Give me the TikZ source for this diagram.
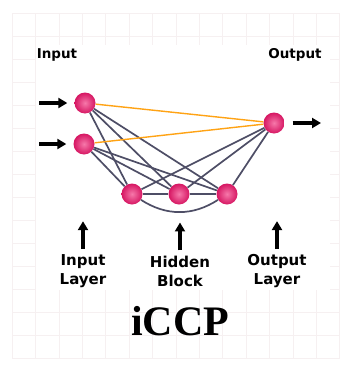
\documentclass[tikz,border=0pt]{standalone}
\usepackage{fontspec}
\setmainfont{DejaVu Sans}
\newfontfamily\titlefont{Liberation Serif}
\usetikzlibrary{arrows.meta,positioning,shadings}
\definecolor{nodepink}{RGB}{214,22,98}
\definecolor{nodelight}{RGB}{246,120,170}
\definecolor{linkgray}{RGB}{78,78,102}
\definecolor{skiporange}{RGB}{255,163,20}
\definecolor{gridpink}{RGB}{246,240,241}
\tikzset{
  neuron/.style={circle,minimum size=21pt,inner sep=0pt,shading=radial,
    inner color=nodelight,outer color=nodepink},
  link/.style={linkgray,line width=1.7pt},
  skip/.style={skiporange,line width=1.4pt},
  feed/.style={-{Triangle[length=9pt,width=10pt]},line width=3.5pt},
  toplabel/.style={font=\bfseries\fontsize{13.5}{16}\selectfont},
  caption/.style={font=\bfseries\fontsize{15}{19}\selectfont,align=center,inner sep=1pt}
}

\begin{document}
\begin{tikzpicture}[x=1pt,y=-1pt]
  \useasboundingbox (0,0) rectangle (351,367);
  % faint grid behind the picture
  \foreach \gx in {0,...,14}
    \draw[gridpink,line width=0.6pt] ({12+23.4*\gx},13) -- ({12+23.4*\gx},358);
  \foreach \gy in {0,...,15}
    \draw[gridpink,line width=0.6pt] (12,{13+23*\gy}) -- (340,{13+23*\gy});
  \fill[white] (36,45) rectangle (330,290);

  % neurons
  \node[neuron] (in1) at (85,103) {};
  \node[neuron] (in2) at (84,144) {};
  \node[neuron] (h1) at (132,194) {};
  \node[neuron] (h2) at (179,194) {};
  \node[neuron] (h3) at (227,194) {};
  \node[neuron] (out) at (274,123) {};

  % connections
  \foreach \i in {in1,in2}
    \foreach \h in {h1,h2,h3}
      \draw[link] (\i) -- (\h);
  \foreach \h in {h1,h2,h3}
    \draw[link] (\h) -- (out);
  \draw[link] (h1) -- (h2) -- (h3);
  \draw[link] (h1) to[bend right=33] (h3);
  \foreach \i in {in1,in2}
    \draw[skip] (\i) -- (out);

  % signal arrows
  \coordinate (x1) at (39,103);
  \coordinate (x2) at (39,144);
  \coordinate (y) at (321,123);
  \draw[feed,shorten >=7pt] (x1) -- (in1);
  \draw[feed,shorten >=7pt] (x2) -- (in2);
  \draw[feed,shorten <=8pt] (out) -- (y);

  % labels
  \node[toplabel] (tin) at (57,55) {Input};
  \node[toplabel] (tout) at (295,55) {Output};
  \node[caption] (lin) at (83,271) {Input\\Layer};
  \node[caption] (lhid) at (180,271) {Hidden\\Block};
  \node[caption] (lout) at (277,271) {Output\\Layer};
  \foreach \l in {lin,lhid,lout}
    \draw[feed] ([yshift=4pt]\l.north) -- ++(0,-28);
  \node[font=\titlefont\bfseries\fontsize{42}{42}\selectfont,anchor=base] (title) at (180,335) {iCCP};
\end{tikzpicture}
\end{document}
